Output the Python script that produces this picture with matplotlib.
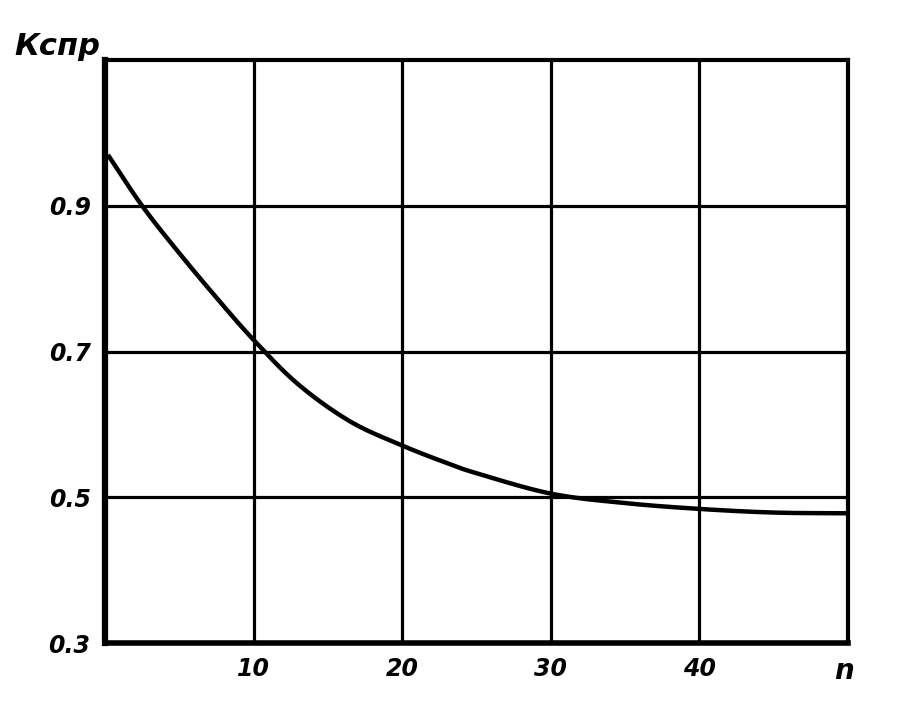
import numpy as np
import matplotlib
matplotlib.use("Agg")
import matplotlib.pyplot as plt

# values
n_vals = [0.2, 2.5, 5, 7.5, 10, 13, 16.5, 20, 23, 25, 30, 35, 40, 45, 50]
k_vals = [0.97, 0.90, 0.835, 0.774, 0.716, 0.655, 0.604, 0.571, 0.547,
          0.533, 0.505, 0.492, 0.484, 0.479, 0.478]

x_ticks = [10, 20, 30, 40]
x_labels = ["10", "20", "30", "40"]
y_ticks = [0.5, 0.7, 0.9]
y_labels = ["0.5", "0.7", "0.9"]


def catmull_rom(x, y, per_seg=30):
    # smooth curve through the read points
    x = np.asarray(x, float)
    y = np.asarray(y, float)
    px = np.concatenate([[2 * x[0] - x[1]], x, [2 * x[-1] - x[-2]]])
    py = np.concatenate([[2 * y[0] - y[1]], y, [2 * y[-1] - y[-2]]])
    out_x, out_y = [], []
    t = np.linspace(0, 1, per_seg, endpoint=False)
    for i in range(1, len(px) - 2):
        for p, out in ((px, out_x), (py, out_y)):
            p0, p1, p2, p3 = p[i - 1], p[i], p[i + 1], p[i + 2]
            out.extend(0.5 * (2 * p1 + (-p0 + p2) * t
                              + (2 * p0 - 5 * p1 + 4 * p2 - p3) * t ** 2
                              + (-p0 + 3 * p1 - 3 * p2 + p3) * t ** 3))
    out_x.append(x[-1])
    out_y.append(y[-1])
    return np.array(out_x), np.array(out_y)


fig = plt.figure(figsize=(9.09, 7.16), dpi=100)
ax = fig.add_axes([0.1155, 0.102, 0.8175, 0.814])

xs, ys = catmull_rom(n_vals, k_vals)
ax.plot(xs, ys, color="black", lw=3.2, solid_capstyle="butt", zorder=3)

for x in x_ticks:
    ax.axvline(x, color="black", lw=2.3, zorder=2)
for y in y_ticks:
    ax.axhline(y, color="black", lw=2.3, zorder=2)

ax.set_xlim(0, 50)
ax.set_ylim(0.3, 1.1)
for sp in ax.spines.values():
    sp.set_linewidth(3)
ax.spines["left"].set_linewidth(4.5)
ax.spines["bottom"].set_linewidth(4)

ax.set_xticks(x_ticks)
ax.set_xticklabels(x_labels)
ax.set_yticks(y_ticks)
ax.set_yticklabels(y_labels)
ax.tick_params(length=0, pad=10, labelsize=17)
for t in ax.get_xticklabels() + ax.get_yticklabels():
    t.set_fontstyle("italic")
    t.set_fontweight("bold")

ax.text(-0.02, -0.005, "0.3", transform=ax.transAxes, ha="right", va="center",
        fontsize=17, fontstyle="italic", fontweight="bold")
ax.text(0.995, -0.048, "n", transform=ax.transAxes, ha="center", va="center",
        fontsize=20, fontstyle="italic", fontweight="bold")
fig.text(0.063, 0.935, "Кспр", ha="center", va="center",
         fontsize=22, fontstyle="italic", fontweight="bold")

fig.savefig("out.png", dpi=100, facecolor="white")
